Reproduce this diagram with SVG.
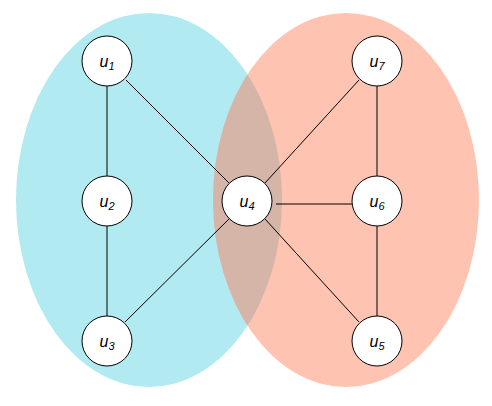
<svg xmlns="http://www.w3.org/2000/svg" width="492" height="406" viewBox="0 0 492 406">
<style>
.node{fill:#fff;stroke:#000;stroke-width:1}
.lbl{font-family:"Liberation Sans",Arial,sans-serif;font-style:italic;font-size:16px;text-anchor:middle;fill:#000}
.sub{font-size:11px}
.edge{stroke:#000;stroke-width:1;fill:none}
</style>
<defs>
<clipPath id="leftClip"><ellipse cx="149" cy="200" rx="133" ry="187"/></clipPath>
</defs>
<g id="sets">
<ellipse id="setA" cx="149" cy="200" rx="133" ry="187" fill="#b1eaf0"/>
<ellipse id="setB" cx="346" cy="200" rx="133" ry="187" fill="#fec3b1"/>
<ellipse cx="346" cy="200" rx="133" ry="187" fill="#d4b5a8" clip-path="url(#leftClip)"/>
</g>
<g id="connectors">
<line class="edge" x1="107" y1="86" x2="107" y2="176"/>
<line class="edge" x1="107" y1="226" x2="107" y2="316"/>
<line class="edge" x1="126" y1="80" x2="229" y2="183"/>
<line class="edge" x1="125" y1="322" x2="229" y2="219"/>
<line class="edge" x1="265" y1="183" x2="359" y2="80"/>
<line class="edge" x1="265" y1="219" x2="359" y2="322"/>
<line class="edge" x1="276" y1="204" x2="352" y2="204"/>
<line class="edge" x1="377" y1="86" x2="377" y2="176"/>
<line class="edge" x1="377" y1="226" x2="377" y2="316"/>
</g>
<g id="u1"><circle class="node" cx="107" cy="61" r="25"/><text class="lbl" x="107" y="67">u<tspan class="sub" dy="3">1</tspan></text></g>
<g id="u2"><circle class="node" cx="107" cy="201" r="25"/><text class="lbl" x="107" y="207">u<tspan class="sub" dy="3">2</tspan></text></g>
<g id="u3"><circle class="node" cx="107" cy="341" r="25"/><text class="lbl" x="107" y="347">u<tspan class="sub" dy="3">3</tspan></text></g>
<g id="u4"><circle class="node" cx="247" cy="201" r="25"/><text class="lbl" x="247" y="207">u<tspan class="sub" dy="3">4</tspan></text></g>
<g id="u5"><circle class="node" cx="377" cy="341" r="25"/><text class="lbl" x="377" y="347">u<tspan class="sub" dy="3">5</tspan></text></g>
<g id="u6"><circle class="node" cx="377" cy="201" r="25"/><text class="lbl" x="377" y="207">u<tspan class="sub" dy="3">6</tspan></text></g>
<g id="u7"><circle class="node" cx="377" cy="61" r="25"/><text class="lbl" x="377" y="67">u<tspan class="sub" dy="3">7</tspan></text></g>
</svg>
